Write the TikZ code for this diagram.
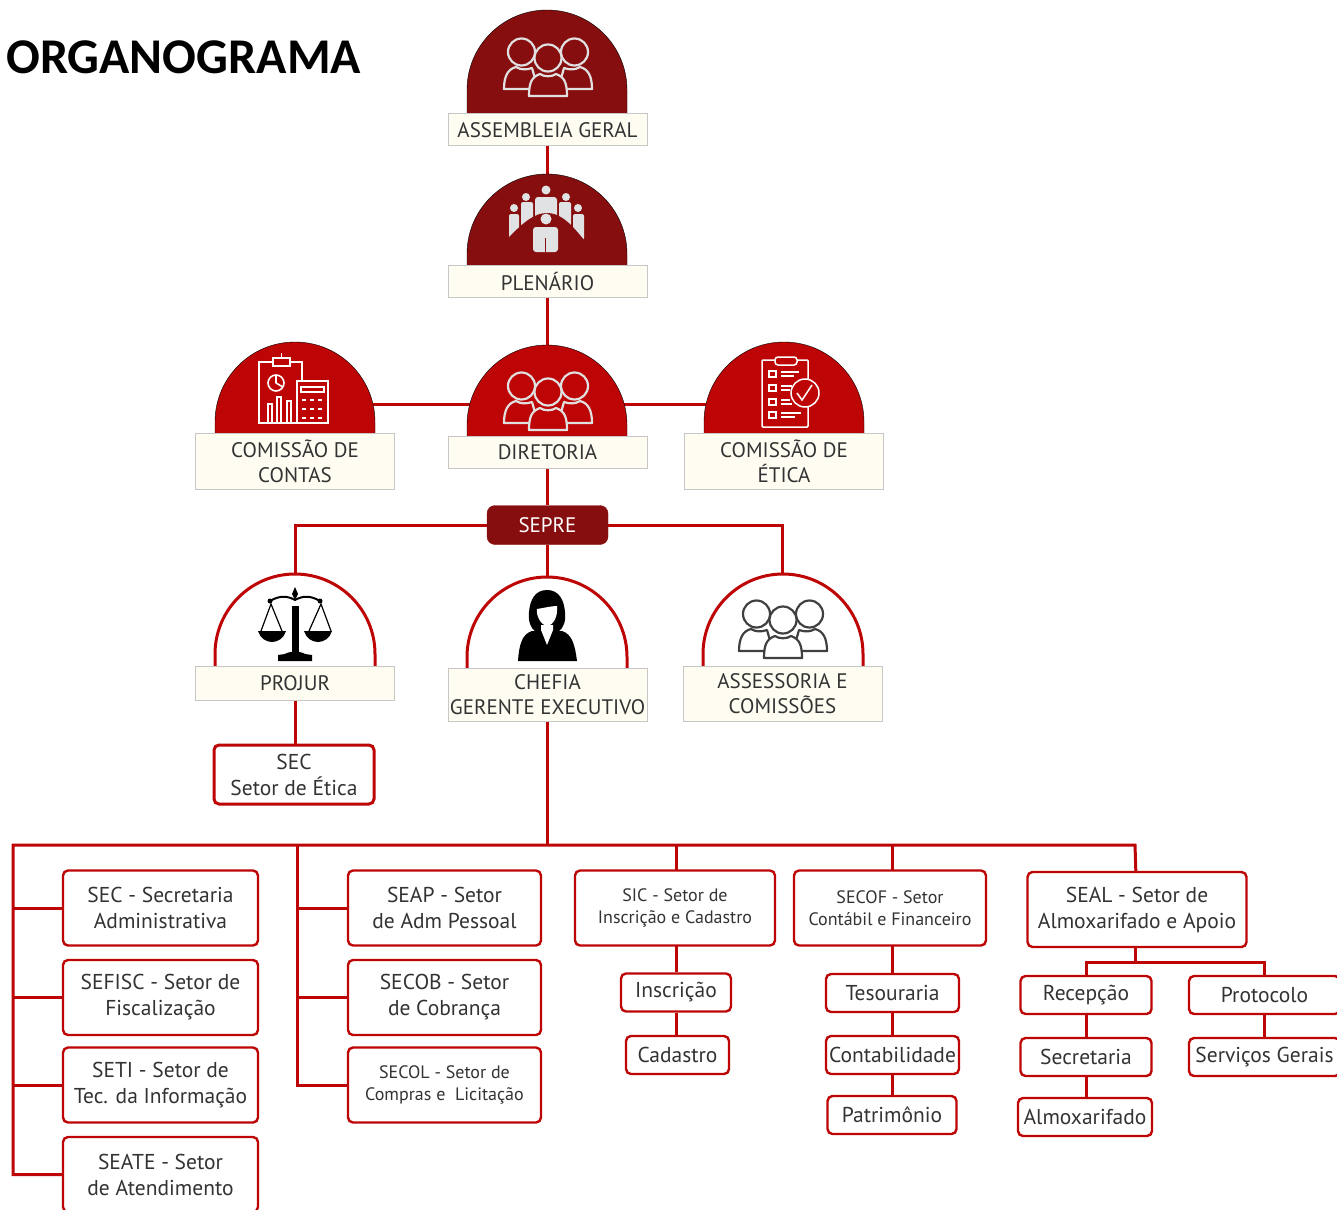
\documentclass[tikz,border=0pt]{standalone}
\usepackage{fontspec}
\setmainfont{PT Sans}
\newfontfamily\titlefont{Carlito}
\usetikzlibrary{backgrounds}

\definecolor{orgDark}{HTML}{870E0E}
\definecolor{orgRed}{HTML}{BE0505}
\definecolor{orgCream}{HTML}{FFFCF2}
\definecolor{orgText}{HTML}{333333}
\definecolor{orgGrey}{HTML}{E0E2E4}

\newcommand{\dome}[5]{%
    \draw[#5] (#1-80,#3) -- (#1-80,#2+80) arc[start angle=180,end angle=0,radius=80pt] -- (#1+80,#3);
}

\tikzset{
    link/.style={draw=orgRed,line width=3pt},
    card/.style={draw=black!22,line width=1pt,fill=orgCream,text=orgText,inner sep=0,align=center,font=\fontsize{21}{25}\selectfont},
    unit/.style={draw=orgRed,line width=2.4pt,fill=white,text=orgText,rounded corners=5pt,inner sep=0,align=center,font=\fontsize{21.5}{26}\selectfont},
    small/.style={font=\fontsize{18}{22}\selectfont},
    pics/crowd/.style 2 args={code={
        \draw[draw=#1,fill=#2,line width=2.2pt,line join=round] (-44,21) .. controls (-44,8) and (-40,1) .. (-32,-1) .. controls (-27,2) and (-22,2) .. (-16,0) -- (-10,21) -- cycle;
        \draw[draw=#1,fill=#2,line width=2.2pt,line join=round] (44,21) .. controls (44,8) and (40,1) .. (32,-1) .. controls (27,2) and (22,2) .. (16,0) -- (10,21) -- cycle;
        \draw[draw=#1,fill=#2,line width=2.2pt,line join=round] (-19,28) .. controls (-19,14) and (-16,9) .. (-8,6) .. controls (-4,9) and (4,9) .. (8,6) .. controls (16,9) and (19,14) .. (19,28) -- cycle;
        \draw[draw=#1,fill=#2,line width=2.2pt] (-26.5,-16) circle[radius=13.5pt];
        \draw[draw=#1,fill=#2,line width=2.2pt] (26.5,-16) circle[radius=13.5pt];
        \draw[draw=#1,fill=#2,line width=2.2pt] (0,-10) circle[radius=13.5pt];
    }}
}

\begin{document}
\begin{tikzpicture}[x=1pt,y=-1pt]
    \useasboundingbox (0,0) rectangle (1337,1209);

    \node[anchor=west,inner sep=0,font=\titlefont\bfseries\fontsize{50}{54}\selectfont] (titulo) at (6,57) {ORGANOGRAMA};

    % domes
    \dome{547}{10}{114}{}{fill=orgDark}
    \dome{547}{174}{265}{}{fill=orgDark}
    \dome{295}{342}{433}{}{fill=orgRed}
    \dome{547}{345}{436}{}{fill=orgRed}
    \dome{784}{342}{433}{}{fill=orgRed}
    \dome{295}{574}{666}{}{draw=orgRed,line width=3pt,fill=white}
    \dome{547}{577}{668}{}{draw=orgRed,line width=3pt,fill=white}
    \dome{783}{574}{666}{}{draw=orgRed,line width=3pt,fill=white}

    % labels
    \node[card,minimum width=199,minimum height=32] (assembleia) at (547.5,130) {ASSEMBLEIA GERAL};
    \node[card,minimum width=199,minimum height=32] (plenario) at (547.5,281) {PLENÁRIO};
    \node[card,minimum width=199,minimum height=56] (contas) at (295,461) {COMISSÃO DE\\CONTAS};
    \node[card,minimum width=199,minimum height=32] (diretoria) at (547.5,452) {DIRETORIA};
    \node[card,minimum width=199,minimum height=56] (etica) at (784,461) {COMISSÃO DE\\ÉTICA};
    \node[draw=orgDark,fill=orgDark,text=white,rounded corners=8pt,inner sep=0,minimum width=121,minimum height=39,font=\fontsize{21}{25}\selectfont] (sepre) at (547.5,525) {SEPRE};
    \node[card,minimum width=199,minimum height=34] (projur) at (295,683) {PROJUR};
    \node[card,minimum width=199,minimum height=53] (chefia) at (547.5,694.5) {CHEFIA\\GERENTE EXECUTIVO};
    \node[card,minimum width=199,minimum height=55] (assessoria) at (782.5,693.5) {ASSESSORIA E\\COMISSÕES};
    \node[unit,line width=3pt,minimum width=160,minimum height=59] (setorEtica) at (294,774.5) {SEC\\Setor de Ética};

    % left columns
    \node[unit,minimum width=195,minimum height=75] (secretaria) at (160.5,908) {SEC - Secretaria\\Administrativa};
    \node[unit,minimum width=195,minimum height=75] (sefisc) at (160.5,997.5) {SEFISC - Setor de\\Fiscalização};
    \node[unit,minimum width=195,minimum height=75] (seti) at (160.5,1085) {SETI - Setor de\\Tec. da Informação};
    \node[unit,minimum width=195,minimum height=75] (seate) at (160.5,1174.5) {SEATE - Setor\\de Atendimento};
    \node[unit,minimum width=193,minimum height=75] (seap) at (444.5,908) {SEAP - Setor\\de Adm Pessoal};
    \node[unit,minimum width=193,minimum height=75] (secob) at (444.5,997.5) {SECOB - Setor\\de Cobrança};
    \node[unit,small,minimum width=193,minimum height=75] (secol) at (444.5,1085) {SECOL - Setor de\\Compras e\ \ Licitação};

    % top row
    \node[unit,small,minimum width=200,minimum height=75] (sic) at (675,908) {SIC - Setor de\\Inscrição e Cadastro};
    \node[unit,small,minimum width=192,minimum height=75] (secof) at (890,908) {SECOF - Setor\\Contábil e Financeiro};
    \node[unit,minimum width=219,minimum height=75] (seal) at (1137,909.5) {SEAL - Setor de\\Almoxarifado e Apoio};

    \node[unit,minimum width=110,minimum height=38] (inscricao) at (676,992.5) {Inscrição};
    \node[unit,minimum width=103,minimum height=38] (cadastro) at (677.5,1055) {Cadastro};
    \node[unit,minimum width=133,minimum height=38] (tesouraria) at (892.5,993) {Tesouraria};
    \node[unit,minimum width=133,minimum height=38] (contabilidade) at (892.5,1055) {Contabilidade};
    \node[unit,minimum width=129,minimum height=38] (patrimonio) at (892,1115) {Patrimônio};
    \node[unit,minimum width=131,minimum height=38] (recepcao) at (1086,995) {Recepção};
    \node[unit,minimum width=131,minimum height=38] (secretaria2) at (1086,1057) {Secretaria};
    \node[unit,minimum width=134,minimum height=38] (almoxarifado) at (1085,1117) {Almoxarifado};
    \node[unit,minimum width=151,minimum height=38] (protocolo) at (1264.5,995) {Protocolo};
    \node[unit,minimum width=151,minimum height=38] (servicos) at (1264.5,1057) {Serviços Gerais};

    % icons
    \pic at (548,68) {crowd={white!88!black}{orgDark}};
    \pic at (548,402) {crowd={white!88!black}{orgRed}};
    \pic at (783,630) {crowd={black!75}{white}};

    % plenario people
    \fill[orgGrey] (546,190) circle[radius=4.5pt];
    \fill[orgGrey,rounded corners=3pt] (535,197) rectangle (557,220);
    \fill[orgGrey] (526,197) circle[radius=4pt];
    \fill[orgGrey] (566,197) circle[radius=4pt];
    \fill[orgGrey,rounded corners=2pt] (521,202) rectangle (533,226);
    \fill[orgGrey,rounded corners=2pt] (559,202) rectangle (571,226);
    \fill[orgGrey] (514,208) circle[radius=4pt];
    \fill[orgGrey] (578,208) circle[radius=4pt];
    \fill[orgGrey,rounded corners=2pt] (509,214) rectangle (519,238);
    \fill[orgGrey,rounded corners=2pt] (573,214) rectangle (584,240);
    \fill[orgDark] (509,237) .. controls (525,221) and (535,213) .. (547,213) .. controls (559,213) and (569,221) .. (584,240) -- (570,250) -- (524,250) -- cycle;
    \fill[orgGrey] (546,219) circle[radius=5.5pt];
    \fill[orgGrey,rounded corners=3pt] (533,227) rectangle (558,252);
    \draw[orgDark,line width=1.2pt] (545.5,238) -- (545.5,252);

    % clipboard and calculator
    \begin{scope}[draw=white,line width=1.6pt]
        \draw (259,362) rectangle (302,423);
        \draw[fill=orgRed] (273,358) rectangle (290,366);
        \draw (281.5,358) -- (281.5,353);
        \draw (276,383) circle[radius=8pt];
        \draw (276,383) -- (276,375) (276,383) -- (283,387);
        \draw (268,423) -- (268,404) -- (272,404) -- (272,423) (277,423) -- (277,397) -- (281,397) -- (281,423) (287,423) -- (287,401) -- (291,401) -- (291,423);
        \draw[fill=orgRed] (297,381) rectangle (328,423);
        \draw (301,387) rectangle (324,392);
        \draw (302,400) -- (306,400) (310,400) -- (314,400) (318,400) -- (322,400);
        \draw (302,409) -- (306,409) (310,409) -- (314,409) (318,409) -- (322,409);
        \draw (302,418) -- (306,418) (310,418) -- (314,418) (318,418) -- (322,418);
    \end{scope}

    % checklist
    \begin{scope}[draw=white,line width=1.5pt]
        \draw[rounded corners=1pt] (762,360) rectangle (808,427);
        \draw[fill=orgRed,rounded corners=3pt] (775,357) rectangle (797,365);
        \draw (769,371) rectangle (776,377) (769,385) rectangle (776,391) (769,399) rectangle (776,405) (769,412) rectangle (776,418);
        \draw (781,372) -- (799,372) (781,376) -- (794,376);
        \draw (781,386) -- (792,386) (781,390) -- (790,390);
        \draw (781,400) -- (790,400) (781,404) -- (792,404);
        \draw (781,413) -- (801,413) (781,417) -- (795,417);
        \draw[fill=orgRed] (805,393) circle[radius=14pt];
        \draw (797,393) -- (802,400) -- (812,385);
    \end{scope}

    % scales
    \fill[black] (292,606) rectangle (299,652);
    \fill[black] (278,661) -- (278,655) -- (285,654) .. controls (289,651) and (301,651) .. (305,654) -- (312,655) -- (312,661) -- cycle;
    \fill[black] (295,587) -- (298,594) -- (295,600) -- (292,594) -- cycle;
    \draw[black,line width=2pt] (270,601) .. controls (280,595) and (288,596) .. (295,600) .. controls (302,596) and (310,595) .. (320,601);
    \fill[black] (270,601) circle[radius=2.5pt];
    \fill[black] (320,601) circle[radius=2.5pt];
    \draw[black,line width=1.2pt] (261,631) -- (271,604) -- (282,631);
    \draw[black,line width=1.2pt] (309,631) -- (321,604) -- (331,631);
    \fill[black] (258,631) -- (286,631) .. controls (284,638) and (278,642) .. (272,642) .. controls (266,642) and (260,638) .. (258,631);
    \fill[black] (304,631) -- (332,631) .. controls (330,638) and (324,642) .. (318,642) .. controls (312,642) and (306,638) .. (304,631);

    % woman
    \fill[black] (547,590) .. controls (535,590) and (530,600) .. (529,612) .. controls (528,620) and (530,628) .. (536,632) -- (558,632) .. controls (564,628) and (566,620) .. (565,612) .. controls (564,600) and (559,590) .. (547,590);
    \fill[black] (518,661) .. controls (519,645) and (522,634) .. (532,631) -- (562,631) .. controls (572,634) and (575,645) .. (577,661) -- cycle;
    \fill[white] (537,609) .. controls (544,608) and (551,606) .. (557,606) .. controls (558,616) and (554,625) .. (547,626) .. controls (541,625) and (536,616) .. (537,609);
    \fill[white] (541,625) -- (553,625) -- (553,630) -- (547,645) -- (541,630) -- cycle;

    % connectors
    \coordinate (diretoriaJoint) at (547,404);
    \coordinate (busLeft) at (13,845);
    \coordinate (busMiddle) at (297,845);
    \coordinate (busRight) at (1135,845);
    \coordinate (sealJoint) at (1135,962);
    \begin{scope}[on background layer]
        \draw[link] (assembleia) -- (plenario);
        \draw[link] (plenario) -- (diretoria);
        \draw[link] (contas |- diretoriaJoint) -- (etica |- diretoriaJoint);
        \draw[link] (diretoria) -- (sepre);
        \draw[link] (sepre) -- (chefia);
        \draw[link] (sepre) -| (projur);
        \draw[link] (sepre) -| (assessoria);
        \draw[link] (projur.south) -- (projur.south |- setorEtica.north);
        \draw[link] (chefia) -- (chefia |- busRight);
        \draw[link] (seate.west) -| (busLeft) -- (busRight) -- (seal);
        \draw[link] (secretaria.west) -- (busLeft |- secretaria.west);
        \draw[link] (sefisc.west) -- (busLeft |- sefisc.west);
        \draw[link] (seti.west) -- (busLeft |- seti.west);
        \draw[link] (secol.west) -| (busMiddle);
        \draw[link] (seap.west) -- (busMiddle |- seap.west);
        \draw[link] (secob.west) -- (busMiddle |- secob.west);
        \draw[link] (sic |- busLeft) ++(1,0) -- (676,908);
        \draw[link] (secof |- busLeft) ++(2,0) -- (892,908);
        \draw[link] (inscricao) -- (inscricao |- sic);
        \draw[link] (inscricao) -- (inscricao |- cadastro);
        \draw[link] (tesouraria) -- (tesouraria |- secof);
        \draw[link] (tesouraria) -- (contabilidade);
        \draw[link] (contabilidade) -- (contabilidade |- patrimonio);
        \draw[link] (seal |- sealJoint) ++(-2,0) -- (1135,909);
        \draw[link] (recepcao) |- (sealJoint) -| (protocolo);
        \draw[link] (recepcao) -- (secretaria2);
        \draw[link] (secretaria2) -- (secretaria2 |- almoxarifado);
        \draw[link] (protocolo) -- (servicos);
    \end{scope}
\end{tikzpicture}
\end{document}
